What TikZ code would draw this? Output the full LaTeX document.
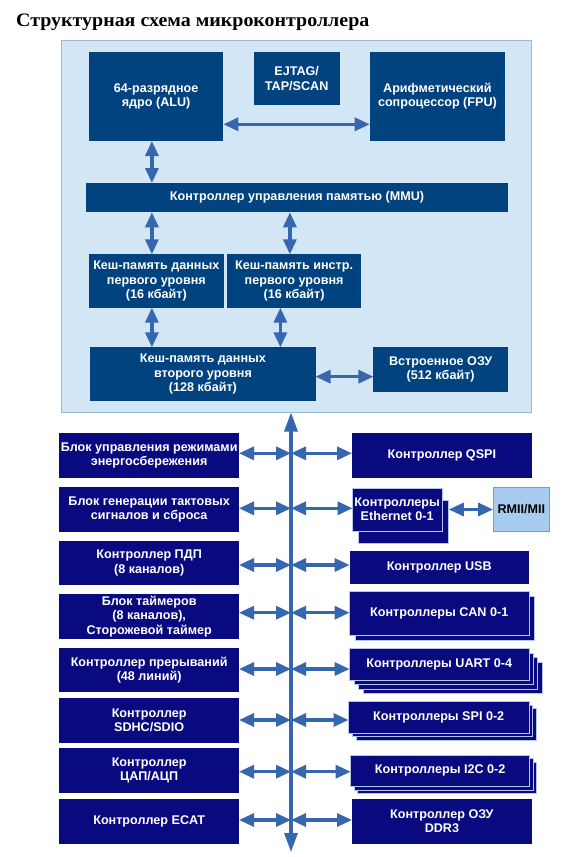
\documentclass[tikz,border=0pt]{standalone}
\usepackage{fontspec}
\setmainfont{Liberation Sans}
\newfontfamily\titlefont[FakeStretch=1.05]{Liberation Serif}
\usetikzlibrary{arrows.meta,shadows}
\definecolor{topc}{HTML}{00437F}
\definecolor{botc}{HTML}{0A0A80}
\definecolor{arrc}{HTML}{3566AE}
\definecolor{panelc}{HTML}{D3E6F5}
\definecolor{paneld}{HTML}{98B8D8}
\definecolor{rmiic}{HTML}{A8CCF0}
\definecolor{rmiid}{HTML}{6E9ED2}
\definecolor{stackd}{HTML}{B4C4EA}
\begin{document}
\begin{tikzpicture}[x=1pt,y=-1pt,
  box/.style={inner sep=0pt, outer sep=0pt, align=center, text=white,
    font=\fontsize{12.6}{14.3}\selectfont\bfseries},
  topbox/.style={box, fill=topc},
  botbox/.style={box, fill=botc},
  stackbox/.style={botbox, draw=stackd, line width=0.6pt},
  sh/.style 2 args={copy shadow={shadow xshift=#1pt, shadow yshift=-#2pt}},
  dbl/.style={draw=arrc, line width=3.2pt,
    {Triangle[length=15pt,width=13pt]}-{Triangle[length=15pt,width=13pt]}},
  busarr/.style={draw=arrc, line width=3.2pt,
    {Triangle[length=19pt,width=13pt]}-{Triangle[length=19pt,width=13pt]}}
]
\useasboundingbox (0,0) rectangle (571,857);
\fill[white] (0,0) rectangle (571,857);

% title
\node[anchor=base west, inner sep=0pt, font=\titlefont\fontsize{19}{21}\selectfont\bfseries] (title) at (16,26) {Структурная схема микроконтроллера};

% panel
\node[draw=paneld, fill=panelc, line width=0.8pt, inner sep=0pt, outer sep=0pt,
  minimum width=470.3pt, minimum height=372.5pt] (panel) at (296.65,226.25) {};

% top boxes
\node[topbox, minimum width=134.3pt, minimum height=89.3pt] (alu) at (156.15,96.35) {64-разрядное\\ядро (ALU)};
\node[topbox, minimum width=86pt, minimum height=53.6pt] (ejtag) at (296.7,78.5) {EJTAG/\\TAP/SCAN};
\node[topbox, minimum width=135.4pt, minimum height=89.3pt] (fpu) at (437.4,96.35) {Арифметический\\сопроцессор (FPU)};
\node[topbox, minimum width=422pt, minimum height=29.3pt] (mmu) at (297,197.65) {Контроллер управления памятью (MMU)};
\node[topbox, minimum width=134.6pt, minimum height=53.4pt] (l1d) at (156.3,281) {Кеш-память данных\\первого уровня\\(16 кбайт)};
\node[topbox, minimum width=134.3pt, minimum height=53.4pt] (l1i) at (294.15,281) {Кеш-память инстр.\\первого уровня\\(16 кбайт)};
\node[topbox, minimum width=225.1pt, minimum height=53.7pt] (l2) at (202.95,374.15) {Кеш-память данных\\второго уровня\\(128 кбайт)};
\node[topbox, minimum width=134.6pt, minimum height=45pt] (ram) at (440.7,369.2) {Встроенное ОЗУ\\(512 кбайт)};

% top arrows
\draw[dbl] ([yshift=16.7pt]alu.south east) -- ([yshift=16.7pt]fpu.south west);
\coordinate (ca) at ([xshift=62.9pt]alu.south west);
\draw[dbl] (ca) -- (ca |- mmu.north);
\coordinate (cb) at ([xshift=62.9pt]l1d.north west);
\draw[dbl] (mmu.south -| cb) -- (cb);
\coordinate (cc) at ([xshift=62.9pt]l1i.north west);
\draw[dbl] (mmu.south -| cc) -- (cc);
\coordinate (cd) at ([xshift=62.9pt]l1d.south west);
\draw[dbl] (cd) -- (cd |- l2.north);
\coordinate (ce) at ([xshift=53.4pt]l1i.south west);
\draw[dbl] (ce) -- (ce |- l2.north);
\coordinate (cf) at ([yshift=-2.5pt]l2.east);
\draw[dbl] (cf) -- (cf -| ram.west);

% left column
\node[botbox, minimum width=179.7pt, minimum height=45pt] (b1) at (149.15,455.5) {Блок управления режимами\\энергосбережения};
\node[botbox, minimum width=179.7pt, minimum height=45pt] (b2) at (149.15,509.5) {Блок генерации тактовых\\сигналов и сброса};
\node[botbox, minimum width=179.7pt, minimum height=44pt] (b3) at (149.15,563) {Контроллер ПДП\\(8 каналов)};
\node[botbox, minimum width=179.7pt, minimum height=45pt] (b4) at (149.15,616.5) {Блок таймеров\\(8 каналов),\\Сторожевой таймер};
\node[botbox, minimum width=179.7pt, minimum height=44pt] (b5) at (149.15,670) {Контроллер прерываний\\(48 линий)};
\node[botbox, minimum width=179.7pt, minimum height=45pt] (b6) at (149.15,720.5) {Контроллер\\SDHC/SDIO};
\node[botbox, minimum width=179.7pt, minimum height=45pt] (b7) at (149.15,770.5) {Контроллер\\ЦАП/АЦП};
\node[botbox, minimum width=179.7pt, minimum height=45pt] (b8) at (149.15,821.5) {Контроллер ECAT};

% right column
\node[botbox, minimum width=179.8pt, minimum height=45pt] (qspi) at (441.9,455.5) {Контроллер QSPI};
\node[stackbox, sh={6}{12}, minimum width=89.3pt, minimum height=43pt] (eth) at (397.15,509.5) {Контроллеры\\Ethernet 0-1};
\node[box, fill=rmiic, draw=rmiid, line width=0.8pt, text=black, minimum width=56.8pt, minimum height=44pt] (rmii) at (521.4,509) {RMII/MII};
\node[botbox, minimum width=179.3pt, minimum height=33pt] (usb) at (439.25,567.5) {Контроллер USB};
\node[stackbox, sh={5.5}{5}, minimum width=179.3pt, minimum height=44pt] (can) at (439.25,613.7) {Контроллеры CAN 0-1};
\node[stackbox, sh={13.2}{13.5}, sh={8.8}{9}, sh={4.4}{4.5}, minimum width=179.3pt, minimum height=31.7pt] (uart) at (439.25,664.15) {Контроллеры UART 0-4};
\node[stackbox, sh={7.4}{6.6}, sh={3.7}{3.3}, minimum width=180.4pt, minimum height=31.6pt] (spi) at (438.7,717.5) {Контроллеры SPI 0-2};
\node[stackbox, sh={7}{7}, sh={3.5}{3.5}, minimum width=178.9pt, minimum height=31.7pt] (i2c) at (440.15,770.85) {Контроллеры I2C 0-2};
\node[botbox, minimum width=179.8pt, minimum height=45pt] (ddr) at (441.9,821.5) {Контроллер ОЗУ\\DDR3};

% bus
\coordinate (busbot) at (291,852);
\draw[busarr] (panel.south -| busbot) -- (busbot);
\coordinate (r1) at (291,453.3);
\coordinate (r2) at (291,508.3);
\coordinate (r3) at (291,565);
\coordinate (r4) at (291,612.7);
\coordinate (r5) at (291,669);
\coordinate (r6) at (291,720);
\coordinate (r7) at (291,771.7);
\coordinate (r8) at (291,820);
\draw[dbl] (b1.east |- r1) -- (r1);
\draw[dbl] (r1) -- (qspi.west |- r1);
\draw[dbl] (b2.east |- r2) -- (r2);
\draw[dbl] (r2) -- (eth.west |- r2);
\draw[dbl] (b3.east |- r3) -- (r3);
\draw[dbl] (r3) -- (usb.west |- r3);
\draw[dbl] (b4.east |- r4) -- (r4);
\draw[dbl] (r4) -- (can.west |- r4);
\draw[dbl] (b5.east |- r5) -- (r5);
\draw[dbl] (r5) -- (uart.west |- r5);
\draw[dbl] (b6.east |- r6) -- (r6);
\draw[dbl] (r6) -- (spi.west |- r6);
\draw[dbl] (b7.east |- r7) -- (r7);
\draw[dbl] (r7) -- (i2c.west |- r7);
\draw[dbl] (b8.east |- r8) -- (r8);
\draw[dbl] (r8) -- (ddr.west |- r8);
\coordinate (ethr) at ([xshift=7pt]eth.east);
\draw[dbl] (ethr) -- (ethr -| rmii.west);
\end{tikzpicture}
\end{document}
